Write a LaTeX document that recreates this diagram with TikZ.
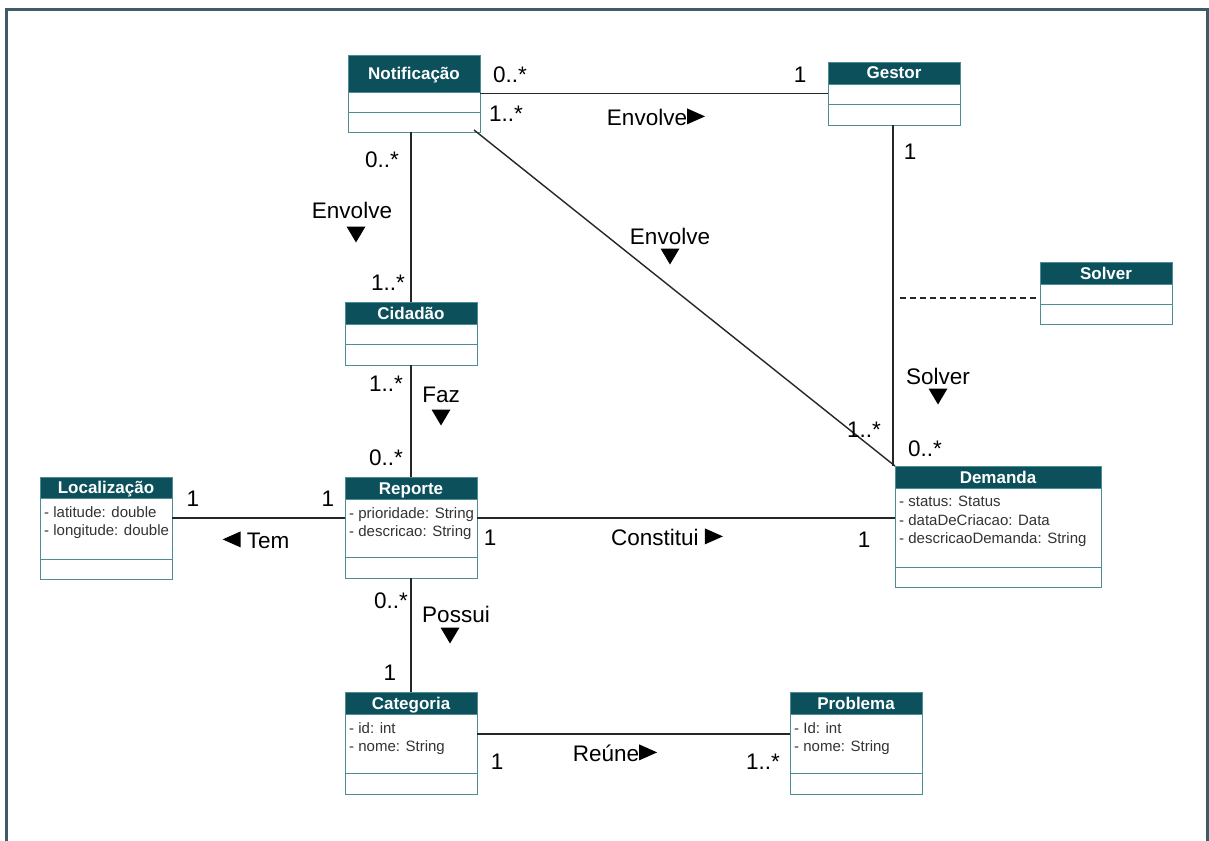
\documentclass[tikz,border=0pt]{standalone}
\usepackage{fontspec}
\setmainfont{Liberation Sans}
\usetikzlibrary{calc}
\definecolor{hdr}{HTML}{0B505B}
\definecolor{bdr}{HTML}{4F8D96}
\definecolor{framecol}{HTML}{3E5C67}

% #1 name, #2 left, #3 top, #4 width, #5 header h, #6 attribute h, #7 operation h, #8 title, #9 attributes
\newcommand\umlclass[9]{%
  \node[anchor=north west, inner sep=0pt, outer sep=0pt,
        minimum width=#4, minimum height=#5+#6+#7] (#1) at (#2,#3) {};
  \fill[hdr] (#1.north west) rectangle ($(#1.north east)+(0,#5)$);
  \draw[bdr] ($(#1.north west)+(0,#5)$) -- ($(#1.north east)+(0,#5)$);
  \draw[bdr] ($(#1.north west)+(0,#5+#6)$) -- ($(#1.north east)+(0,#5+#6)$);
  \draw[bdr] (#1.north west) rectangle (#1.south east);
  \node[classtitle, anchor=base] (#1-title) at ($(#1.north)+(0,#5/2+6)$) {#8};
  \node[classattr, anchor=north west] (#1-attr) at ($(#1.north west)+(4,#5+8)$) {#9};
}
% solid triangles used as reading-direction marks
\newcommand\dn{\tikz[baseline=-1pt,x=1pt,y=1pt]\fill (0,16)--(19,16)--(9.5,0)--cycle;}
\newcommand\rt{\tikz[baseline=-1pt,x=1pt,y=1pt]\fill (0,0)--(18,8)--(0,16)--cycle;}
\newcommand\lt{\tikz[baseline=-1pt,x=1pt,y=1pt]\fill (18,0)--(0,8)--(18,16)--cycle;}

\begin{document}
\begin{tikzpicture}[x=1pt, y=-1pt,
  classtitle/.style={text=white, font=\fontsize{17}{17}\selectfont\bfseries, inner sep=0pt},
  classattr/.style={text=black!80, font=\fontsize{15}{18.5}\selectfont, align=left, inner sep=0pt},
  lbl/.style={font=\fontsize{22.5}{22.5}\selectfont, inner sep=0pt},
  assoc/.style={draw=black!85, line width=1.4pt},
  dep/.style={draw=black!85, line width=1.2pt, dash pattern=on 6pt off 4pt}]

% page and frame
\fill[white] (0,0) rectangle (1209,840);
\useasboundingbox (0,0) rectangle (1209,840);
\draw[framecol, line width=3pt] (6.5,841) -- (6.5,9.5) -- (1207.5,9.5) -- (1207.5,841);

% classes
\umlclass{notif}{348}{55}{132}{37}{20}{20}{Notificação}{}
\umlclass{gestor}{828}{62}{132}{22}{20}{21}{Gestor}{}
\umlclass{solver}{1040}{262}{132}{22}{20}{20}{Solver}{}
\umlclass{cidadao}{345}{302}{132}{22}{20}{21}{Cidadão}{}
\umlclass{local}{40}{477}{132}{21}{61}{20}{Localização}{- latitude: double\\- longitude: double}
\umlclass{reporte}{345}{477}{132}{22}{58}{21}{Reporte}{- prioridade: String\\- descricao: String}
\umlclass{demanda}{895}{466}{206}{22}{79}{20}{Demanda}{- status: Status\\- dataDeCriacao: Data\\- descricaoDemanda: String}
\umlclass{categoria}{345}{692}{132}{22}{59}{21}{Categoria}{- id: int\\- nome: String}
\umlclass{problema}{790}{692}{132}{22}{59}{21}{Problema}{- Id: int\\- nome: String}

% associations
\draw[assoc] (notif.east) -- (gestor.west);
\draw[assoc] (cidadao.north |- notif.south) -- (cidadao.north);
\draw[assoc] ($(notif.south east)+(-6,-2)$) -- (demanda.north west);
\draw[assoc] (gestor.south -| demanda.north west) ++(-2,0) -- ($(demanda.north west)+(-2,0)$);
\draw[assoc] (cidadao.south) -- (reporte.north);
\draw[assoc] ($(local.east)+(0,-10)$) -- ($(reporte.west)+(0,-9.5)$);
\draw[assoc] ($(reporte.east)+(0,-9.5)$) -- ($(demanda.west)+(0,-8.5)$);
\draw[assoc] (reporte.south) -- (categoria.north);
\draw[assoc] ($(categoria.east)+(0,-9)$) -- ($(problema.west)+(0,-9)$);

% dependency towards Solver
\coordinate (solverlink) at (900,298);
\draw[dep] (solverlink) -- (solverlink -| solver.west);

% labels: Notificação - Gestor
\node[lbl] (m1) at (510,75) {0..*};
\node[lbl] (m2) at (800,75) {1};
\node[lbl] (a1) at (656,117) {Envolve\rt};
% Notificação - Cidadão
\node[lbl] (m3) at (382,160) {0..*};
\node[lbl] (a2) at (352,210) {Envolve};
\node[lbl] (a2d) at (356,235) {\dn};
\node[lbl] (m4) at (388,283) {1..*};
% Notificação - Demanda
\node[lbl] (m5) at (506,114) {1..*};
\node[lbl] (a3) at (670,236) {Envolve};
\node[lbl] (a3d) at (670,257) {\dn};
\node[lbl] (m6) at (864,430) {1..*};
% Gestor - Demanda
\node[lbl] (m7) at (910,152) {1};
\node[lbl] (a4) at (938,376) {Solver};
\node[lbl] (a4d) at (938,397) {\dn};
\node[lbl] (m8) at (925,449) {0..*};
% Cidadão - Reporte
\node[lbl] (m9) at (386,384) {1..*};
\node[lbl] (a5) at (441,395) {Faz};
\node[lbl] (a5d) at (441,418) {\dn};
\node[lbl] (m10) at (386,458) {0..*};
% Localização - Reporte
\node[lbl] (m11) at (193,499) {1};
\node[lbl] (m12) at (328,499) {1};
\node[lbl] (a6) at (256,540) {\lt{} Tem};
% Reporte - Demanda
\node[lbl] (m13) at (490,538) {1};
\node[lbl] (a7) at (667,537) {Constitui \rt};
\node[lbl] (m14) at (864,540) {1};
% Reporte - Categoria
\node[lbl] (m15) at (391,601) {0..*};
\node[lbl] (a8) at (456,614) {Possui};
\node[lbl] (a8d) at (450,636) {\dn};
\node[lbl] (m16) at (390,673) {1};
% Categoria - Problema
\node[lbl] (m17) at (497,762) {1};
\node[lbl] (a9) at (615,753) {Reúne\rt};
\node[lbl] (m18) at (763,762) {1..*};
\end{tikzpicture}
\end{document}
